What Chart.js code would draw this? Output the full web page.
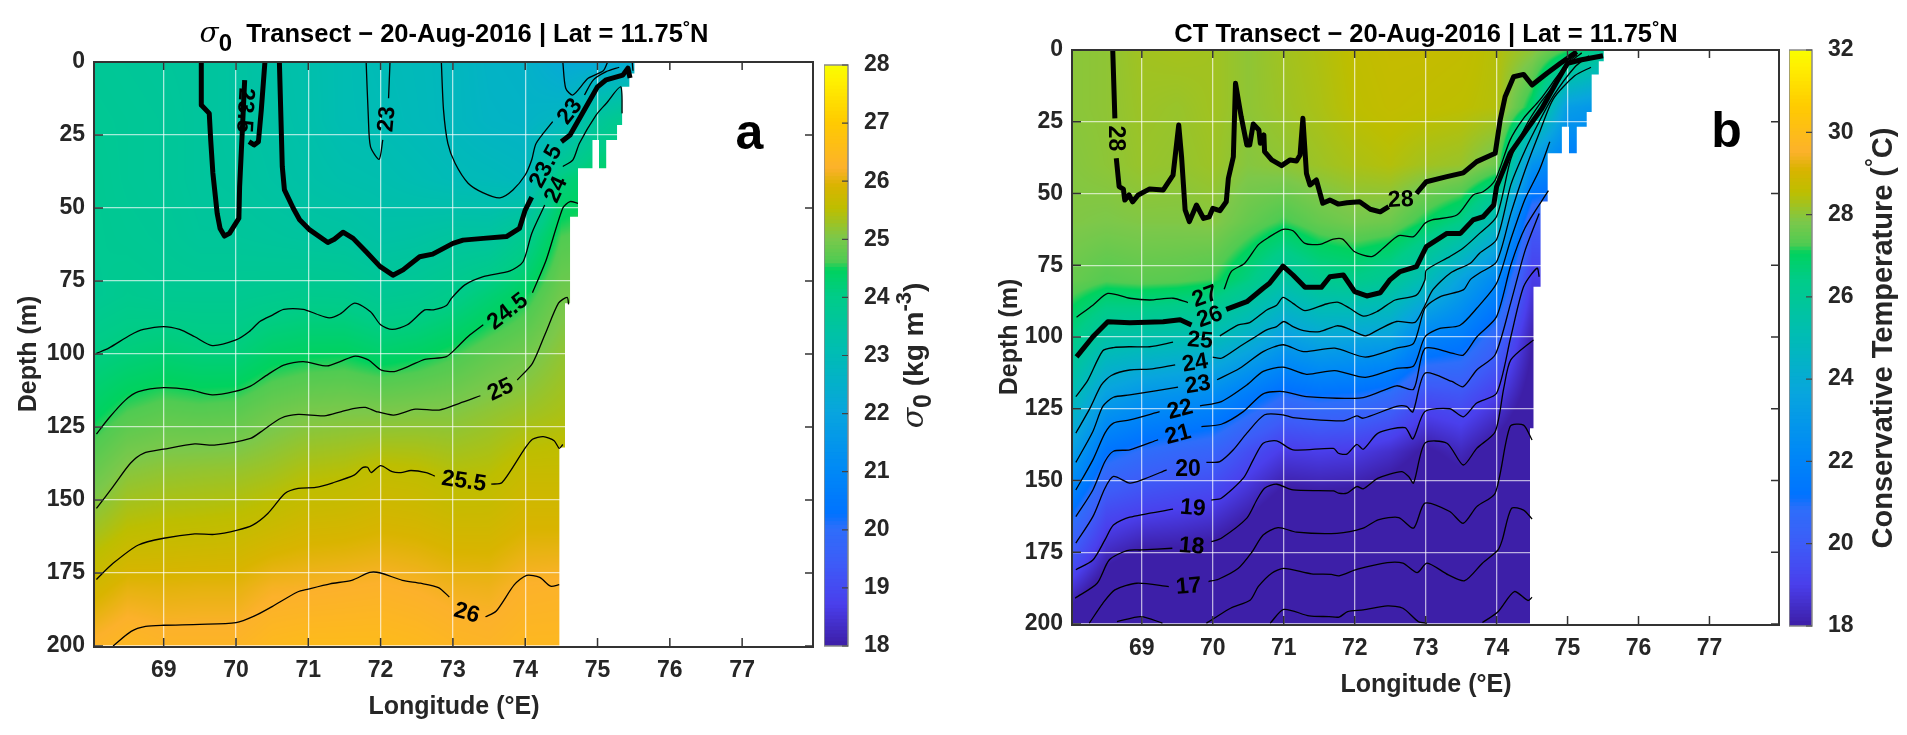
<!DOCTYPE html>
<html>
<head>
<meta charset="utf-8">
<title>Transects 20-Aug-2016</title>
<script src="https://cdn.jsdelivr.net/npm/chart.js@4"></script>
<style>
  body { margin: 0; background: #fff; overflow: hidden; }
  canvas { position: absolute; top: 0; }
</style>
</head>
<body>
<canvas id="sigmaChart" style="left:0px" width="820" height="735"></canvas>
<canvas id="sigmaBar" style="left:824px" width="130" height="735"></canvas>
<canvas id="ctChart" style="left:960px" width="826" height="735"></canvas>
<canvas id="ctBar" style="left:1789px" width="118" height="735"></canvas>
<script>
// grid of the shaded field (one row per longitude)
const gridLon = [68, 68.5, 69, 69.5, 70, 70.5, 71, 71.5, 72, 72.5, 73, 73.5, 74, 74.5, 75, 75.5];
const gridDepth = [0, 20, 40, 60, 80, 100, 120, 140, 160, 180, 200];

const sigmaField = [
  [23.7, 23.75, 23.8, 23.8, 23.75, 24.05, 24.37, 24.78, 25.25, 25.78, 26.25],
  [23.65, 23.7, 23.7, 23.75, 23.85, 24.15, 24.6, 25.08, 25.5, 26, 26.4],
  [23.6, 23.65, 23.65, 23.7, 23.8, 24.22, 24.7, 25.15, 25.55, 25.98, 26.3],
  [23.55, 23.55, 23.55, 23.6, 23.8, 24.15, 24.67, 25.18, 25.57, 26, 26.3],
  [23.45, 23.45, 23.5, 23.6, 23.8, 24.15, 24.7, 25.2, 25.6, 26, 26.3],
  [23.3, 23.35, 23.4, 23.55, 23.85, 24.35, 24.87, 25.28, 25.7, 26.15, 26.45],
  [23.2, 23.22, 23.3, 23.5, 23.9, 24.42, 24.97, 25.41, 25.8, 26.17, 26.5],
  [23.05, 23.05, 23.2, 23.47, 23.88, 24.44, 25, 25.45, 25.82, 26.2, 26.5],
  [22.95, 23, 23.15, 23.35, 23.75, 24.32, 25, 25.56, 25.88, 26.23, 26.5],
  [22.88, 22.9, 23.05, 23.4, 23.8, 24.4, 25.03, 25.53, 25.85, 26.18, 26.45],
  [22.8, 22.8, 22.95, 23.5, 23.95, 24.55, 25.05, 25.43, 25.77, 26.1, 26.35],
  [22.6, 22.65, 22.9, 23.5, 24.2, 24.75, 25.15, 25.46, 25.77, 26.08, 26.3],
  [22.55, 22.6, 22.8, 23.85, 24.45, 24.9, 25.25, 25.63, 25.9, 26.22, 26.4],
  [22.2, 22.75, 24.1, 24.6, 24.9, 25.15, 25.35, 25.63, 25.9, 26.25, 26.4],
  [22.2, 23.6, 24.4, 24.7, 25, 25.2, 25.4, 25.63, 25.9, 26.25, 26.4],
  [22.3, 24, 24.5, 24.7, 25, 25.2, 25.4, 25.63, 25.9, 26.25, 26.4]
];

const ctField = [
  [27.95, 27.95, 27.9, 27.85, 27.55, 26.5, 25.1, 23.4, 21.3, 19.5, 17.3],
  [28, 28, 27.98, 27.8, 27.3, 25.5, 23.4, 21.2, 19.45, 18, 16.3],
  [28.2, 28.15, 28.1, 27.85, 27.4, 25.4, 22.9, 20.75, 19.15, 17.5, 15.8],
  [28.25, 28.1, 28.05, 27.85, 27.35, 25.2, 22.7, 20.5, 19, 17.5, 16],
  [28.2, 28.2, 28.15, 27.9, 27.2, 25, 22.4, 20.3, 18.8, 17.35, 15.9],
  [28, 28, 27.9, 27.5, 26.5, 24.3, 21.6, 19.5, 18.2, 16.9, 15.5],
  [28.2, 28.15, 28, 27.15, 25.6, 23.35, 20.9, 18.85, 17.45, 16.05, 14.8],
  [28.35, 28.3, 28.15, 27.5, 26.2, 23.8, 21.15, 18.95, 17.55, 16.2, 14.8],
  [28.55, 28.5, 28.3, 27.7, 26.35, 23.65, 21.05, 18.85, 17.5, 16.05, 14.75],
  [28.65, 28.6, 28.4, 27.6, 26, 23.5, 20.7, 18.5, 17.2, 15.9, 14.6],
  [28.65, 28.55, 28.2, 27, 25, 22, 19.6, 17.85, 16.9, 15.9, 14.8],
  [28.6, 28.5, 28.1, 26.4, 23.5, 21.6, 19.75, 18.3, 17.25, 16.2, 14.8],
  [28.4, 28.4, 27.6, 24.75, 22.2, 20.45, 19, 17.6, 16.7, 15.7, 14.8],
  [28, 26.8, 22.7, 20, 18.9, 18.1, 17.6, 16.9, 16.2, 15.5, 14.9],
  [27.2, 23.2, 21.5, 20, 19, 18, 17.5, 17, 16, 15.5, 15],
  [26, 22.8, 21.5, 20, 19, 18, 17.5, 17, 16, 15.5, 15]
];

// land (white) edge of each transect: [lon, depth]
const sigmaCoast = [[74.47,200],[74.47,132],[74.55,132],[74.55,82.6],[74.62,82.6],[74.62,53],[74.73,53],[74.73,36.4],[74.93,36.4],[74.93,26.7],[75.02,26.7],[75.02,36.4],[75.12,36.4],[75.12,26.7],[75.27,26.7],[75.27,21.6],[75.34,21.6],[75.34,8.5],[75.44,8.5],[75.44,3.9],[75.51,3.9],[75.51,0],[78,0]];
const ctCoast = [[74.47,200],[74.47,131.8],[74.52,131.8],[74.52,82.5],[74.62,82.5],[74.62,52.8],[74.72,52.8],[74.72,36],[74.92,36],[74.92,26.7],[75.02,26.7],[75.02,36],[75.13,36],[75.13,26.7],[75.27,26.7],[75.27,21.6],[75.34,21.6],[75.34,8.5],[75.44,8.5],[75.44,3.9],[75.51,3.9],[75.51,0],[78,0]];

// sigma-0 contours, each level a list of pieces of [lon, depth]
const sigma23 = [
  [[71.8,0],[71.83,18.7],[71.86,29],[71.98,33.3],[72.03,26.7]],
  [[72.11,12.4],[72.13,0]],
  [[72.84,0],[72.87,16.4],[72.93,27.9],[73.03,34.7],[73.21,41.5],[73.42,44.8],[73.65,46.5],[73.83,43.8],[74,38.7],[74.09,33.5],[74.15,27.9],[74.38,20.4]],
  [[74.82,11.3],[74.94,6.2],[75.12,3.3],[75.3,1.8]],
  [[74.52,0],[74.56,9],[74.66,11.3],[74.87,5.6],[75.08,3],[75.14,0]],
  [[75.48,0],[75.49,3]]
];
const sigma235 = [
  [[69.52,0],[69.52,14.7],[69.63,17.6],[69.65,26.7],[69.68,38],[69.74,51.9],[69.78,57],[69.84,59.6],[69.91,58.7],[70.04,53.5],[70.05,42.7],[70.09,22.1],[70.12,6.2]],
  [[70.18,27.3],[70.25,28.4],[70.31,27.3],[70.35,16.4],[70.4,0]],
  [[70.6,0],[70.64,35.8],[70.67,43.8],[70.79,50],[70.88,54],[71.02,57.5],[71.27,61.8],[71.36,60.7],[71.48,58.3],[71.62,60.4],[71.8,65],[71.99,70],[72.17,73],[72.31,71.2],[72.54,66.7],[72.72,65.8],[73,62.1],[73.14,61],[73.42,60.4],[73.74,59.8],[73.92,57],[74,50.7],[74.09,46.3]],
  [[74.5,27.3],[74.62,25],[75,8.5],[75.12,6.1],[75.35,4.5],[75.42,2.1],[75.45,5.5]]
];
const sigma24 = [
  [[68.07,99.8],[68.24,98],[68.54,93.5],[68.72,91.6],[69,90.6],[69.22,91.6],[69.43,94.1],[69.67,97.1],[70,95.2],[70.18,92.4],[70.33,88.9],[70.51,86.6],[70.66,84.7],[70.93,84.7],[71.11,86.3],[71.29,87.6],[71.44,86.3],[71.64,82.6],[71.86,85.5],[72,90],[72.16,91.6],[72.37,90],[72.61,84.9],[72.73,84.9],[72.91,83.4],[72.98,80.9],[73.16,76.4],[73.42,73.5],[73.79,71.5],[73.97,68.4],[74.09,58.7],[74.27,49]],
  [[74.52,35.8],[74.66,33.5],[74.75,27.8],[74.98,18.2],[75.12,14.2],[75.32,8.5],[75.34,17.6]]
];
const sigma245 = [
  [[68.07,127.4],[68.24,122],[68.47,115.8],[68.65,112.9],[69,111.5],[69.37,112.3],[69.67,114],[69.97,112.9],[70.2,111],[70.41,107.5],[70.66,103.8],[70.93,102.6],[71.26,104.1],[71.44,102.6],[71.65,100.7],[71.83,102],[72.01,105.5],[72.19,106],[72.4,104.1],[72.61,101.8],[72.91,100.9],[73.09,96.9],[73.21,94],[73.42,90]],
  [[74.1,79],[74.29,67.8],[74.52,50],[74.62,47.8],[74.73,48.4]]
];
const sigma25 = [
  [[68.07,152.9],[68.3,145.4],[68.54,137.4],[68.72,134],[69,132.6],[69.43,130.8],[69.7,131.2],[70.2,128.9],[70.38,126],[70.62,122],[70.86,120.7],[71.22,121.2],[71.46,119.7],[71.64,118.6],[71.79,118.3],[71.94,119.7],[72.18,120.9],[72.48,118.9],[72.81,119.2],[73.09,116.9],[73.38,114.3]],
  [[73.89,108.9],[74.1,103.2],[74.28,92.9],[74.46,82.6],[74.58,80.6],[74.6,83]]
];
const sigma255 = [
  [[68.07,177.2],[68.3,171.7],[68.65,165.4],[69,163.1],[69.43,161.6],[69.7,161.8],[70.02,160.3],[70.23,158.6],[70.44,154.6],[70.68,147.7],[70.86,146],[71.1,145.7],[71.34,144.1],[71.64,141.4],[71.75,138.9],[71.82,138.8],[71.87,140.6],[72,138.2],[72.16,140.3],[72.28,140.6],[72.42,139.9],[72.63,140.6],[72.75,141.8]],
  [[73.53,144.6],[73.68,144],[73.98,132.9],[74.1,129.2],[74.25,128.3],[74.4,129.7],[74.47,132.3],[74.52,131]]
];
const sigma26 = [
  [[68.3,200],[68.55,195],[68.75,193.3],[69,192.9],[69.5,192.6],[70,192],[70.25,189.8],[70.5,186.5],[70.85,181.5],[71,180.5],[71.3,178.7],[71.6,177.5],[71.85,174.8],[72,175],[72.3,177.5],[72.55,178.5],[72.8,180],[72.95,183.2]],
  [[73.45,190],[73.6,188],[73.85,179],[74.02,175.8],[74.2,176.5],[74.35,179.5],[74.47,179]]
];

// conservative temperature contours
const ct15 = [
  [[70.81,199.7],[71,194.9],[71.36,197.2],[71.64,197.4],[71.78,197.6],[71.9,195.7],[72.12,195.1],[72.46,193.7],[72.68,194.5],[72.9,199.2],[73.02,199.7]],
  [[73.8,199.5],[74.02,195.7],[74.25,188.7],[74.44,191.8],[74.5,190.7]]
];
const ct16 = [
  [[68.65,199.2],[68.99,197.4],[69.29,199.7]],
  [[69.91,199.7],[70.02,198],[70.25,194.5],[70.53,191.6],[70.64,187],[70.83,182.3],[71,180.6],[71.39,182.5],[71.67,182.7],[71.78,183.2],[72.04,180.9],[72.46,178.6],[72.68,178.8],[72.88,182.1],[73.02,178.8],[73.32,182.9],[73.55,184.9],[73.8,178.8],[74.02,174.2],[74.08,170.7],[74.21,159.7],[74.38,160.3],[74.5,163.4]]
];
const ct17 = [
  [[68.26,199.7],[68.45,192.8],[68.62,188.1],[68.93,185.8],[69.38,187]],
  [[69.94,185.2],[70.08,184.4],[70.36,180.6],[70.55,175],[70.71,169],[70.92,166.4],[71.18,168],[71.75,168.4],[72.12,166.6],[72.33,163.7],[72.62,162.9],[72.83,166.6],[72.99,157.9],[73.34,160.8],[73.53,164.9],[73.72,159.1],[73.98,154.4],[74.19,131.2],[74.38,130.7],[74.5,135.9]]
];
const ct18 = [
  [[68.06,191],[68.37,185.8],[68.54,177.7],[68.79,174.4],[69,174.2],[69.43,173.6]],
  [[69.98,171.3],[70.12,170.1],[70.48,163.1],[70.62,156.8],[70.73,152.7],[70.9,151.3],[71.13,153.3],[71.7,153.6],[71.77,154.4],[71.89,154.4],[72.03,152.1],[72.12,152.9],[72.33,149.2],[72.66,146.9],[72.76,148.6],[72.83,150.9],[72.99,137],[73.3,137],[73.53,144.6],[73.72,138.8],[73.98,133],[74.1,118],[74.2,108],[74.52,101]]
];
const ct19 = [
  [[68.07,181.1],[68.31,177.7],[68.48,170.7],[68.6,165.5],[68.83,162.8],[69.44,160]],
  [[69.98,156.8],[70.12,156.2],[70.43,149.2],[70.57,142.8],[70.71,137],[70.9,136.2],[71.13,139.3],[71.7,138.8],[71.77,140.5],[71.89,140.8],[72.03,137.4],[72.12,139.1],[72.33,133.5],[72.71,131.6],[72.82,135.5],[72.99,126],[73.34,125],[73.53,127.8],[73.72,123],[74,119.6],[74.2,100],[74.38,82.5],[74.57,76],[74.6,79]]
];
const ct20 = [
  [[68.07,171.8],[68.31,162.6],[68.48,152.7],[68.6,148.6],[68.83,150.9],[69,149.8],[69.35,146.3]],
  [[69.91,143.7],[70.1,143.4],[70.29,139.3],[70.48,133.5],[70.73,127.1],[70.99,127.1],[71.13,128.1],[71.84,129.2],[72.03,127.5],[72.12,128.3],[72.59,124.2],[72.73,124.2],[72.82,126.1],[72.99,112.6],[73.37,115.5],[73.53,117.3],[73.72,111.5],[73.98,106.2],[74.2,88],[74.4,70],[74.6,57]]
];
const ct21 = [
  [[68.07,162.6],[68.31,153.3],[68.48,143.4],[68.6,139.8],[68.83,139.3],[69.23,135.8]],
  [[69.84,131.2],[70.12,130.4],[70.43,126],[70.71,119.8],[70.99,119],[71.32,120.8],[72.12,121.1],[72.59,117],[72.83,118.2],[72.99,104],[73.37,105.6],[73.53,106.3],[73.72,100],[74,92.9],[74.2,75],[74.4,62],[74.73,49]]
];
const ct22 = [
  [[68.07,153.3],[68.31,142.8],[68.48,133.5],[68.6,130],[68.83,128.9],[69.25,126]],
  [[69.82,124],[70.12,122.5],[70.48,116.7],[70.71,112],[70.99,110.5],[71.32,113],[71.72,111.7],[72.15,114.1],[72.59,110.9],[72.83,110.1],[72.99,100],[73.2,97],[73.48,96],[73.72,90],[74,81.3],[74.2,66],[74.4,52],[74.6,42],[74.75,32]]
];
const ct23 = [
  [[68.07,143.7],[68.31,132.9],[68.45,124.2],[68.6,121],[68.83,120.2],[69.51,117.5]],
  [[70.06,114.9],[70.38,110.9],[70.71,105.1],[70.99,102.7],[71.28,105.1],[71.72,103.9],[72.15,107],[72.59,103.9],[72.83,102.2],[72.99,90],[73.2,86],[73.53,83.6],[73.63,80],[73.76,77.7],[74,73.8],[74.2,57],[74.4,42],[74.6,29],[74.8,17],[75.1,9],[75.33,6]]
];
const ct24 = [
  [[68.07,133.5],[68.27,124.8],[68.43,116.7],[68.57,113.4],[68.83,111.5],[69.11,111.2],[69.47,109.7]],
  [[70,107],[70.12,107.4],[70.38,103.3],[70.57,100.4],[70.76,97.5],[70.9,96.4],[71,94.6],[71.13,96.4],[71.28,97.8],[71.51,98.1],[71.75,96.1],[71.89,96.9],[72.15,99.6],[72.33,97.5],[72.59,94.6],[72.85,94.9],[72.97,90],[73.1,83.6],[73.35,77.7],[73.63,74.3],[73.76,70.8],[74,66],[74.2,47],[74.4,35],[74.6,25],[74.8,16],[75.1,6],[75.3,2]]
];
const ct25 = [
  [[68.07,120.8],[68.24,115],[68.45,104.8],[68.6,103.7],[68.83,103.4],[69.11,103.4],[69.44,101.8]],
  [[70.1,99.6],[70.36,95.8],[70.52,95],[70.76,90.6],[70.9,88.9],[70.99,86.2],[71.13,88.3],[71.3,90.8],[71.6,88.5],[71.77,87.9],[71.93,90],[72.12,92.7],[72.31,91.2],[72.57,87.1],[72.87,85.4],[72.99,80.1],[73.01,76.7],[73.34,72],[73.53,69],[73.76,63.9],[74,58],[74.2,38],[74.4,27],[74.6,19],[74.85,11],[75.05,4],[75.2,1]]
];
const ct26 = [
  [[68.08,106.9],[68.31,99.9],[68.52,94.7],[68.83,95],[69.3,94.7],[69.54,94],[69.7,95.8]],
  [[70.19,90.4],[70.48,87.7],[70.71,83],[70.8,81.3],[70.99,75.3],[71.13,78.4],[71.3,82.7],[71.53,82.7],[71.65,79],[71.84,78.4],[72,84.2],[72.17,85.7],[72.36,84.6],[72.5,80],[72.64,77.2],[72.87,75.5],[73.01,68.5],[73.3,63.9],[73.49,63.9],[73.67,59.2],[73.81,58.1],[73.96,54],[74,47.6],[74.19,36],[74.42,27.9],[74.64,20.3],[74.85,11],[75,4.6],[75.18,3.5],[75.5,2]]
];
const ct27 = [
  [[68.08,93.1],[68.31,88.9],[68.52,84.8],[68.83,86.5],[69.11,87.1],[69.44,86.5],[69.65,88]],
  [[70.16,83.4],[70.26,77.2],[70.45,74.3],[70.64,67.9],[70.78,65.4],[70.99,62.5],[71.13,63],[71.3,67.4],[71.51,67.7],[71.7,65.9],[71.83,65.9],[72,70.3],[72.24,72],[72.4,69.1],[72.62,64.7],[72.83,65],[72.99,60.4],[73.09,59.2],[73.44,57.5],[73.67,50.5],[73.81,49.4],[73.98,45.3],[74.19,31.4],[74.38,23.8],[74.61,17.4],[74.85,9.3],[75.01,4.1],[75.13,1.7]]
];
const ct28 = [
  [[68.59,0],[68.62,23.8]],
  [[68.64,37.7],[68.68,47.6],[68.74,48.5],[68.76,52.3],[68.82,50.5],[68.87,52.9],[68.95,50.5],[69.11,48.4],[69.3,48.8],[69.44,43.6],[69.52,26.1],[69.56,37.2],[69.61,55.7],[69.67,59.8],[69.77,54],[69.87,58.7],[69.95,58.1],[70,55.2],[70.1,56],[70.19,52.9],[70.22,44.7],[70.29,37.2],[70.32,11.6],[70.4,23.2],[70.48,33.1],[70.52,33.1],[70.57,25.8],[70.65,27.9],[70.67,32.5],[70.72,29.6],[70.73,35.4],[70.83,38.3],[70.97,40.3],[71.09,38.3],[71.18,38.7],[71.23,36.6],[71.27,23.8],[71.32,43],[71.37,47],[71.46,45.3],[71.55,53.4],[71.65,52.3],[71.77,53.7],[71.89,53.2],[72.07,52.9],[72.22,55.5],[72.36,56.4],[72.48,54.6]],
  [[72.87,50],[73.01,45.9],[73.3,44.1],[73.53,42.8],[73.72,38.9],[73.98,36],[74.05,24.4],[74.12,16.3],[74.24,9.3],[74.38,8.5],[74.5,12.2],[74.71,8.1],[74.9,4.6],[75.13,0.6]]
];

// contour labels: [text, lon, depth, angle]
const sigmaLabels = [
  ['23.5', 70.12, 16.5, 93], ['23', 72.09, 19.6, -85], ['23', 74.62, 17, -52],
  ['23.5', 74.29, 35.8, -62], ['24', 74.43, 43.8, -65], ['24.5', 73.76, 85.5, -38],
  ['25', 73.66, 112.3, -25], ['25.5', 73.15, 143.7, 8], ['26', 73.19, 188.8, 15]
];
const ctLabels = [
  ['28', 68.62, 30.8, 90], ['28', 72.65, 52.3, -3], ['27', 69.89, 86, -20], ['26', 69.96, 93.1, -20],
  ['25', 69.82, 101.3, 5], ['24', 69.75, 109.2, -10], ['23', 69.79, 116.7, -10], ['22', 69.54, 125.4, -15],
  ['21', 69.51, 134.1, -15], ['20', 69.65, 146.3, 0], ['19', 69.72, 159.7, 5], ['18', 69.7, 173, 5], ['17', 69.66, 187, -5]
];

// colour map stops: [fraction, colour]
const cmapStops = [
  [0, '#3d1fa8'], [0.07, '#4a3fec'], [0.14, '#3d5cf8'], [0.2, '#2e6efa'], [0.225, '#0073ff'],
  [0.3, '#0089f6'], [0.4, '#08a5de'], [0.5, '#00bcb5'], [0.6, '#00cc88'], [0.645, '#00d25e'],
  [0.66, '#50cb52'], [0.7, '#7cc84a'], [0.75, '#bdbe00'], [0.79, '#d9b400'], [0.82, '#fcb12b'],
  [0.9, '#ffcb00'], [0.97, '#fff000'], [1, '#f8ff00']
];

const FONT = '"Liberation Sans", Arial, sans-serif';
const INK = '#262626';
const stopsRgb = cmapStops.map(s => [s[0], parseInt(s[1].slice(1, 3), 16), parseInt(s[1].slice(3, 5), 16), parseInt(s[1].slice(5, 7), 16)]);

function cmap(t) {
  t = Math.min(1, Math.max(0, t));
  let i = 1;
  while (i < stopsRgb.length - 1 && stopsRgb[i][0] < t) i++;
  const a = stopsRgb[i - 1], b = stopsRgb[i], f = (t - a[0]) / (b[0] - a[0]);
  return [a[1] + (b[1] - a[1]) * f, a[2] + (b[2] - a[2]) * f, a[3] + (b[3] - a[3]) * f];
}

function bracket(list, v) {
  let i = 0;
  while (i < list.length - 2 && list[i + 1] < v) i++;
  return [i, Math.min(1, Math.max(0, (v - list[i]) / (list[i + 1] - list[i])))];
}

// text made of runs with their own font and a vertical shift, centred on the origin
function drawRuns(ctx, runs) {
  ctx.textBaseline = 'middle';
  ctx.textAlign = 'left';
  const width = runs.reduce((w, r) => { ctx.font = r.font; return w + ctx.measureText(r.text).width; }, 0);
  let x = -width / 2;
  runs.forEach(r => {
    ctx.font = r.font;
    ctx.fillText(r.text, x, r.dy || 0);
    x += ctx.measureText(r.text).width;
  });
}

// paints the field behind the grid, through the chart's own scales
function heatPlugin(field, vmin, vmax) {
  return {
    id: 'heat',
    beforeDraw(chart) {
      const { ctx, chartArea: a, scales } = chart;
      const w = Math.round(a.right - a.left), h = Math.round(a.bottom - a.top);
      const img = ctx.createImageData(w, h);
      for (let py = 0; py < h; py++) {
        const [j, fy] = bracket(gridDepth, scales.y.getValueForPixel(a.top + py + 0.5));
        for (let px = 0; px < w; px++) {
          const [i, fx] = bracket(gridLon, scales.x.getValueForPixel(a.left + px + 0.5));
          const v = (field[i][j] * (1 - fy) + field[i][j + 1] * fy) * (1 - fx) +
                    (field[i + 1][j] * (1 - fy) + field[i + 1][j + 1] * fy) * fx;
          const c = cmap((v - vmin) / (vmax - vmin)), k = (py * w + px) * 4;
          img.data[k] = c[0]; img.data[k + 1] = c[1]; img.data[k + 2] = c[2]; img.data[k + 3] = 255;
        }
      }
      ctx.putImageData(img, Math.round(a.left), Math.round(a.top));
    }
  };
}

// box round the plot with the small inward ticks, and the panel title above it
function framePlugin(titleRuns) {
  return {
    id: 'frame',
    afterDraw(chart) {
      const { ctx, chartArea: a, scales } = chart;
      ctx.save();
      ctx.strokeStyle = '#333';
      ctx.lineWidth = 2;
      ctx.strokeRect(a.left - 1, a.top, a.right - a.left + 1, a.bottom - a.top + 1);
      ctx.lineWidth = 1.5;
      ctx.beginPath();
      scales.x.ticks.forEach(t => {
        const x = scales.x.getPixelForValue(t.value);
        ctx.moveTo(x, a.top); ctx.lineTo(x, a.top + 8);
        ctx.moveTo(x, a.bottom); ctx.lineTo(x, a.bottom - 8);
      });
      scales.y.ticks.forEach(t => {
        const y = scales.y.getPixelForValue(t.value);
        ctx.moveTo(a.left, y); ctx.lineTo(a.left + 8, y);
        ctx.moveTo(a.right, y); ctx.lineTo(a.right - 8, y);
      });
      ctx.stroke();
      ctx.translate((a.left + a.right) / 2, 35);
      ctx.fillStyle = '#000';
      drawRuns(ctx, titleRuns);
      ctx.restore();
    }
  };
}

function labelPlugin(labels, letter) {
  return {
    id: 'contourLabels',
    afterDatasetsDraw(chart) {
      const { ctx, scales } = chart;
      ctx.save();
      ctx.fillStyle = '#000';
      ctx.textAlign = 'center';
      ctx.textBaseline = 'middle';
      ctx.font = 'bold 23px ' + FONT;
      labels.forEach(l => {
        ctx.save();
        ctx.translate(scales.x.getPixelForValue(l[1]), scales.y.getPixelForValue(l[2]));
        ctx.rotate(l[3] * Math.PI / 180);
        ctx.fillText(l[0], 0, 0);
        ctx.restore();
      });
      ctx.font = 'bold 50px ' + FONT;
      ctx.fillText(letter[0], scales.x.getPixelForValue(letter[1]), scales.y.getPixelForValue(letter[2]));
      ctx.restore();
    }
  };
}

function contourSets(pieces, width) {
  return pieces.map(p => ({
    data: p.map(q => ({ x: q[0], y: q[1] })),
    showLine: true, borderColor: '#000', borderWidth: width, pointRadius: 0,
    tension: width > 2 ? 0 : 0.25, borderJoinStyle: 'round', borderCapStyle: 'butt'
  }));
}

function makePanel(id, opt) {
  let datasets = [];
  opt.thin.forEach(c => { datasets = datasets.concat(contourSets(c, 1.3)); });
  opt.thick.forEach(c => { datasets = datasets.concat(contourSets(c, 5)); });
  datasets.push({
    data: opt.coast.map(q => ({ x: q[0], y: q[1] })),
    showLine: true, borderWidth: 0, pointRadius: 0, tension: 0,
    backgroundColor: '#fff', fill: { value: 200 }
  });
  return new Chart(document.getElementById(id), {
    type: 'scatter',
    data: { datasets: datasets },
    plugins: [heatPlugin(opt.field, opt.vmin, opt.vmax), labelPlugin(opt.labels, opt.letter), framePlugin(opt.title)],
    options: {
      responsive: false,
      animation: false,
      layout: { padding: { left: 0, right: opt.padRight, top: opt.top, bottom: 0 } },
      plugins: { legend: { display: false }, tooltip: { enabled: false } },
      scales: {
        x: {
          type: 'linear', min: opt.lonMin, max: opt.lonMax,
          afterFit: s => { s.height = opt.xHeight; },
          grid: { color: 'rgba(255,255,255,0.65)', lineWidth: 1.3, drawTicks: false },
          border: { display: false },
          ticks: { stepSize: 1, includeBounds: false, padding: 11, maxRotation: 0, color: INK, font: { family: FONT, size: 23, weight: 'bold' } },
          title: {
            display: true, text: 'Longitude (°E)', color: INK,
            font: { family: FONT, size: 25, weight: 'bold' }, padding: { top: 0, bottom: opt.xTitlePad }
          }
        },
        y: {
          reverse: true, min: 0, max: 200,
          afterFit: s => { s.width = opt.yWidth; },
          grid: { color: 'rgba(255,255,255,0.65)', lineWidth: 1.3, drawTicks: false },
          border: { display: false },
          ticks: { stepSize: 25, padding: 10, color: INK, font: { family: FONT, size: 23, weight: 'bold' } },
          title: {
            display: true, text: 'Depth (m)', color: INK,
            font: { family: FONT, size: 25, weight: 'bold' }, padding: { top: opt.yTitlePad, bottom: 0 }
          }
        }
      }
    }
  });
}

// colour bars are stacks of floating bars along their own axis
function makeBar(id, opt) {
  const steps = 160, datasets = [];
  for (let i = 0; i < steps; i++) {
    const lo = opt.vmin + (opt.vmax - opt.vmin) * i / steps;
    const hi = opt.vmin + (opt.vmax - opt.vmin) * (i + 1.3) / steps;
    const c = cmap((i + 0.5) / steps);
    datasets.push({
      data: [[lo, Math.min(hi, opt.vmax)]], backgroundColor: `rgb(${c[0]},${c[1]},${c[2]})`,
      borderWidth: 0, barPercentage: 1, categoryPercentage: 1
    });
  }
  const barFrame = {
    id: 'barFrame',
    afterDraw(chart) {
      const { ctx, chartArea: a, scales } = chart;
      ctx.save();
      ctx.strokeStyle = '#8a8a8a';
      ctx.lineWidth = 1.5;
      ctx.strokeRect(a.left, a.top, a.right - a.left, a.bottom - a.top);
      ctx.strokeStyle = '#444';
      ctx.lineWidth = 1.2;
      ctx.beginPath();
      scales.y.ticks.forEach(t => {
        const y = scales.y.getPixelForValue(t.value);
        ctx.moveTo(a.right, y); ctx.lineTo(a.right - 6, y);
      });
      ctx.stroke();
      // axis title reads upwards, which the right-hand axis title cannot do
      ctx.translate(opt.titleX, (a.top + a.bottom) / 2);
      ctx.rotate(-Math.PI / 2);
      ctx.fillStyle = INK;
      drawRuns(ctx, opt.title);
      ctx.restore();
    }
  };
  return new Chart(document.getElementById(id), {
    type: 'bar',
    data: { labels: [''], datasets: datasets },
    plugins: [barFrame],
    options: {
      responsive: false,
      animation: false,
      layout: { padding: { top: opt.top, bottom: opt.bottom, left: 0, right: 0 } },
      plugins: { legend: { display: false }, tooltip: { enabled: false } },
      scales: {
        x: { stacked: true, display: false },
        y: {
          position: 'right', stacked: false, min: opt.vmin, max: opt.vmax,
          afterFit: s => { s.width = opt.axisWidth; },
          grid: { display: false }, border: { display: false },
          ticks: { stepSize: opt.step, padding: 8, color: INK, font: { family: FONT, size: 23, weight: 'bold' } }
        }
      }
    }
  });
}

const titleFont = 'bold 25.5px ' + FONT;
const titleTail = ' Transect − 20-Aug-2016 | Lat = 11.75';

makePanel('sigmaChart', {
  title: [
    { text: 'σ', font: 'italic 28px "DejaVu Serif", serif' },
    { text: '0', font: 'bold 24px ' + FONT, dy: 9 },
    { text: ' ' + titleTail, font: titleFont },
    { text: '°', font: 'bold 18px ' + FONT, dy: -7 },
    { text: 'N', font: titleFont }
  ],
  field: sigmaField, vmin: 18, vmax: 28, coast: sigmaCoast, labels: sigmaLabels, letter: ['a', 77.1, 25],
  thin: [sigma23, sigma24, sigma245, sigma25, sigma255, sigma26], thick: [sigma235],
  lonMin: 68.05, lonMax: 77.98, padRight: 7, top: 62, xHeight: 89, xTitlePad: 13, yWidth: 95, yTitlePad: 14
});
makeBar('sigmaBar', {
  vmin: 18, vmax: 28, step: 1, top: 65, bottom: 89, axisWidth: 106, titleX: 91,
  title: [
    { text: 'σ', font: 'italic 30px "DejaVu Serif", serif' },
    { text: '0', font: 'bold 25px ' + FONT, dy: 9 },
    { text: ' (kg m', font: 'bold 28px ' + FONT },
    { text: '-3', font: 'bold 22px ' + FONT, dy: -10 },
    { text: ')', font: 'bold 28px ' + FONT }
  ]
});
makePanel('ctChart', {
  title: [
    { text: 'CT' + titleTail, font: titleFont },
    { text: '°', font: 'bold 18px ' + FONT, dy: -7 },
    { text: 'N', font: titleFont }
  ],
  field: ctField, vmin: 18, vmax: 32, coast: ctCoast, labels: ctLabels, letter: ['b', 77.24, 29],
  thin: [ct15, ct16, ct17, ct18, ct19, ct20, ct21, ct22, ct23, ct24, ct25, ct27], thick: [ct26, ct28],
  lonMin: 68.03, lonMax: 77.98, padRight: 7, top: 50, xHeight: 111, xTitlePad: 35, yWidth: 113, yTitlePad: 35
});
makeBar('ctBar', {
  vmin: 18, vmax: 32, step: 2, top: 50, bottom: 109, axisWidth: 95, titleX: 95,
  title: [
    { text: 'Conservative Temperature (', font: 'bold 29px ' + FONT },
    { text: '°', font: 'bold 22px ' + FONT, dy: -9 },
    { text: 'C)', font: 'bold 29px ' + FONT }
  ]
});
</script>
</body>
</html>
